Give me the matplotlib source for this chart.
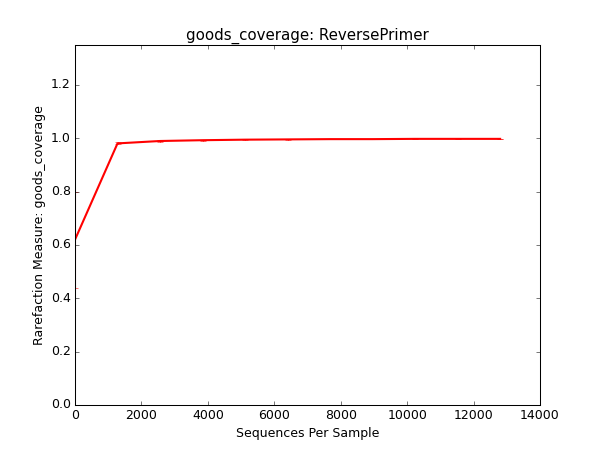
import numpy as np
import matplotlib
matplotlib.use('Agg')
import matplotlib.pyplot as plt

plt.style.use('classic')

depths = [0, 1280, 2560, 3840, 5120, 6400, 7680, 8960, 10240, 11520, 12800]
coverage = [0.62, 0.981, 0.990, 0.993, 0.995, 0.996, 0.997, 0.997, 0.998, 0.998, 0.998]
errors = [0.18, 0.004, 0.002, 0.002, 0.001, 0.001, 0.001, 0.001, 0.001, 0.001, 0.001]

fig, ax = plt.subplots(figsize=(8, 6), dpi=75)
fig.patch.set_facecolor('white')
ax.errorbar(depths, coverage, yerr=errors, color='red', ecolor='red',
            linewidth=2, elinewidth=1, alpha=1.0)
ax.set_xlim(0, 14000)
ax.set_ylim(0, 1.35)
ax.set_yticks(np.arange(0, 1.4, 0.2))
ax.set_xlabel('Sequences Per Sample')
ax.set_ylabel('Rarefaction Measure: goods_coverage')
ax.set_title('goods_coverage: ReversePrimer')
fig.savefig('out.png', dpi=75, facecolor='white')
